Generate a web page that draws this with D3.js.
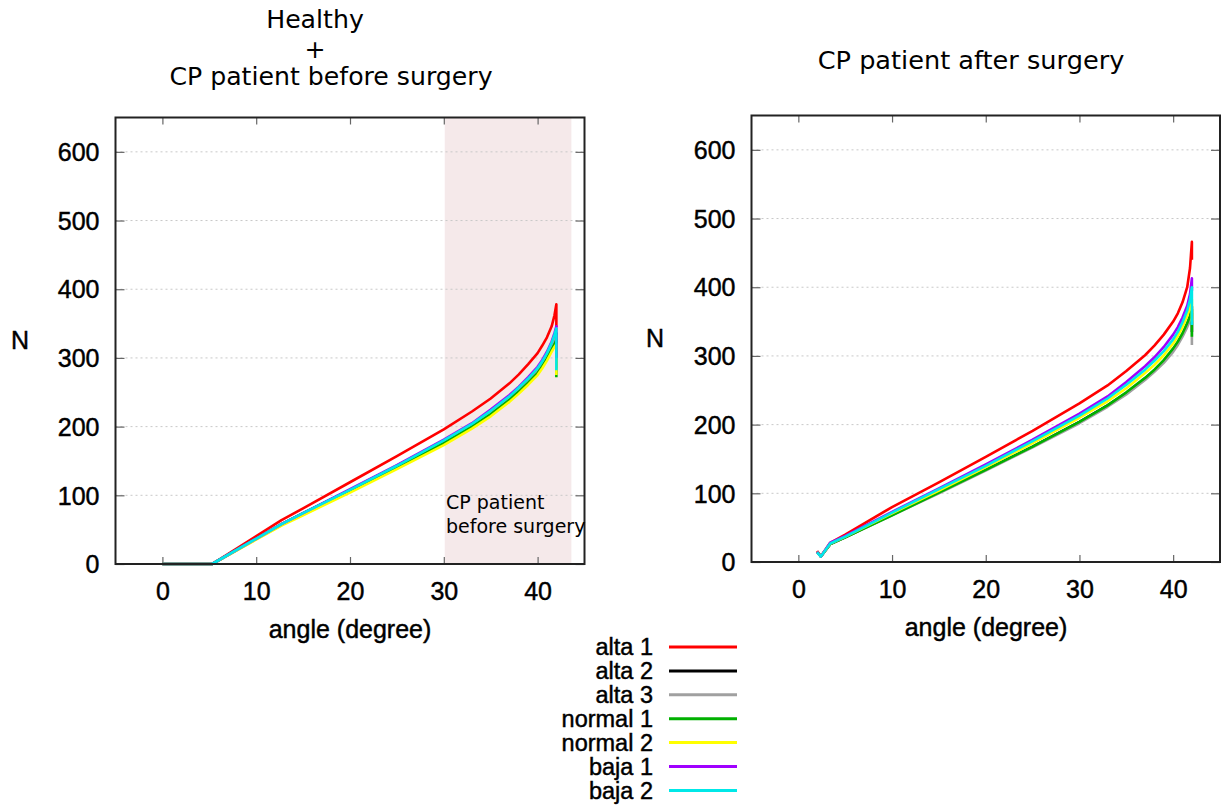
<!DOCTYPE html>
<html><head><meta charset="utf-8">
<script src="https://cdn.jsdelivr.net/npm/d3@7"></script>
<style>body{margin:0;background:#fff}</style>
</head><body><svg id="c" width="1222" height="805"></svg>
<script>
const seriesNames = ["alta 1","alta 2","alta 3","normal 1","normal 2","baja 1","baja 2"];
const seriesColors = ["#ff0000","#000000","#a0a0a0","#00b000","#ffff00","#a000ff","#00e8e8"];
const xTicks = [0,10,20,30,40];
const yTicks = [0,100,200,300,400,500,600];

// Left panel: Healthy + CP patient before surgery  [angle, N]
const beforeAlta1 = [[0,0],[5.3,0],[12.7,64],[15,81],[20,119],[25,157],[30,196],[33,222],[35,241],[37,263],[38,276],[39,291],[40,307],[40.5,318],[41,330],[41.5,346],[41.8,362],[42,378],[42,345]];
const beforeAlta2 = [[0,0],[5.3,0],[12.7,58],[15,74],[20,108],[25,143],[30,179],[33,203],[35,222],[37,243],[38,255],[39,268],[40,283],[40.5,293],[41,305],[41.5,320],[41.8,330],[42,336],[42,285]];
const beforeAlta3 = [[0,0],[5.3,0],[12.7,58],[15,74],[20,107],[25,142],[30,178],[33,202],[35,221],[37,242],[38,254],[39,267],[40,282],[40.5,292],[41,303],[41.5,317],[41.8,327],[42,333],[42,285]];
const beforeNormal1 = [[0,0],[5.3,0],[12.7,57],[15,73],[20,106],[25,140],[30,176],[33,200],[35,218],[37,239],[38,251],[39,264],[40,278],[40.5,288],[41,299],[41.5,312],[41.8,320],[42,326],[42,272]];
const beforeNormal2 = [[0,0],[5.3,0],[12.7,56],[15,71],[20,104],[25,138],[30,173],[33,197],[35,215],[37,236],[38,248],[39,261],[40,275],[40.5,285],[41,296],[41.5,309],[41.8,316],[42,320],[42,275]];
const beforeBaja1 = [[0,0],[5.3,0],[12.7,58],[15,74],[20,109],[25,144],[30,181],[33,205],[35,225],[37,246],[38,258],[39,272],[40,287],[40.5,297],[41,309],[41.5,324],[41.8,336],[42,346],[42,300]];
const beforeBaja2 = [[0,0],[5.3,0],[12.7,58],[15,74],[20,108],[25,143],[30,180],[33,204],[35,223],[37,244],[38,257],[39,270],[40,285],[40.5,295],[41,307],[41.5,322],[41.8,334],[42,343],[42,282]];

// Right panel: CP patient after surgery  [angle, N]
const afterAlta1 = [[2,16],[2.4,8],[3.4,28],[5,40],[10,80],[15,116],[20,153],[25,191],[30,231],[33,257],[35,278],[37,301],[38,315],[39,331],[40,350],[40.5,362],[41,378],[41.5,400],[41.8,428],[42,466],[42,440]];
const afterAlta2 = [[2,15],[2.4,8],[3.4,26],[5,36],[10,69],[15,101],[20,134],[25,168],[30,204],[33,228],[35,246],[37,267],[38,279],[39,293],[40,309],[40.5,319],[41,331],[41.5,346],[41.8,358],[42,372],[42,335]];
const afterAlta3 = [[2,15],[2.4,8],[3.4,26],[5,36],[10,68],[15,100],[20,133],[25,167],[30,202],[33,226],[35,244],[37,265],[38,277],[39,290],[40,306],[40.5,316],[41,328],[41.5,342],[41.8,352],[42,362],[42,316]];
const afterNormal1 = [[2,15],[2.4,8],[3.4,26],[5,36],[10,68],[15,101],[20,134],[25,168],[30,204],[33,228],[35,247],[37,268],[38,280],[39,294],[40,311],[40.5,321],[41,333],[41.5,348],[41.8,358],[42,368],[42,328]];
const afterNormal2 = [[2,15],[2.4,8],[3.4,27],[5,37],[10,71],[15,104],[20,138],[25,173],[30,210],[33,234],[35,253],[37,275],[38,287],[39,301],[40,318],[40.5,329],[41,342],[41.5,358],[41.8,370],[42,382],[42,350]];
const afterBaja1 = [[2,15],[2.4,8],[3.4,28],[5,38],[10,73],[15,107],[20,142],[25,178],[30,216],[33,241],[35,262],[37,285],[38,298],[39,313],[40,331],[40.5,342],[41,356],[41.5,373],[41.8,390],[42,413],[42,395]];
const afterBaja2 = [[2,14],[2.4,8],[3.4,27],[5,37],[10,72],[15,106],[20,140],[25,176],[30,213],[33,238],[35,258],[37,280],[38,293],[39,307],[40,324],[40.5,335],[41,349],[41.5,366],[41.8,382],[42,400],[42,345]];

const beforeSeries = [beforeAlta1,beforeAlta2,beforeAlta3,beforeNormal1,beforeNormal2,beforeBaja1,beforeBaja2];
const afterSeries = [afterAlta1,afterAlta2,afterAlta3,afterNormal1,afterNormal2,afterBaja1,afterBaja2];
const shadeRange = [30.1, 43.6];

const svg = d3.select("#c");
const tickFont = "'Liberation Sans', Arial, sans-serif";
const titleFont = "'DejaVu Sans', sans-serif";

function heavy(sel) {
  return sel.attr("fill", "#000").attr("stroke", "#000").attr("stroke-width", 0.45);
}

function panel(x0, x1, y0, y1, series, shade) {
  const x = d3.scaleLinear().domain([-5,45]).range([x0,x1]);
  const y = d3.scaleLinear().domain([0,650]).range([y1,y0]);
  const g = svg.append("g");
  if (shade) {
    g.append("rect").attr("x", x(shade[0])).attr("y", y0)
      .attr("width", x(shade[1]) - x(shade[0])).attr("height", y1 - y0)
      .attr("fill", "#f5e9ea");
  }
  g.selectAll(".grid").data(yTicks.filter(d => d > 0)).enter().append("line")
    .attr("x1", x0).attr("x2", x1).attr("y1", d => y(d)).attr("y2", d => y(d))
    .attr("stroke", "#c8c8c8").attr("stroke-width", 1).attr("stroke-dasharray", "2,3");
  const ax = (gen, tx, ty) => {
    const a = g.append("g").attr("transform", `translate(${tx},${ty})`).call(gen);
    a.select(".domain").remove();
    a.selectAll(".tick line").attr("stroke", "#666").attr("stroke-width", 1.2);
    return a;
  };
  const bottom = ax(d3.axisBottom(x).tickValues(xTicks).tickSize(-7).tickPadding(18), 0, y1);
  heavy(bottom.selectAll("text").attr("font-family", tickFont).attr("font-size", 25));
  ax(d3.axisTop(x).tickValues(xTicks).tickSize(-7).tickFormat(""), 0, y0);
  const left = ax(d3.axisLeft(y).tickValues(yTicks).tickSize(-9).tickPadding(16), x0, 0);
  heavy(left.selectAll("text").attr("font-family", tickFont).attr("font-size", 25).attr("dy", "0.35em"));
  ax(d3.axisRight(y).tickValues(yTicks).tickSize(-9).tickFormat(""), x1, 0);
  const lineLin = d3.line().x(d => x(d[0])).y(d => y(d[1]));
  series.forEach((s, i) => {
    g.append("path").datum(s).attr("d", lineLin)
      .attr("fill", "none").attr("stroke", seriesColors[i]).attr("stroke-width", 2.6)
      .attr("stroke-linejoin", "round");
  });
  g.append("rect").attr("x", x0).attr("y", y0).attr("width", x1 - x0).attr("height", y1 - y0)
    .attr("fill", "none").attr("stroke", "#222").attr("stroke-width", 2);
  return {x, y};
}

panel(115.5, 584.5, 117.5, 564, beforeSeries, shadeRange);
panel(751.5, 1220, 115.5, 562, afterSeries, null);

// titles
const t1 = svg.append("text").attr("font-family", titleFont).attr("font-size", 25.2)
  .attr("text-anchor", "middle").attr("fill", "#000");
t1.append("tspan").attr("x", 315).attr("y", 28).text("Healthy");
t1.append("tspan").attr("x", 315).attr("y", 57.5).text("+");
t1.append("tspan").attr("x", 331).attr("y", 85).text("CP patient before surgery");
svg.append("text").attr("font-family", titleFont).attr("font-size", 25.6)
  .attr("text-anchor", "middle").attr("fill", "#000").attr("x", 971).attr("y", 69).text("CP patient after surgery");

// annotation
const an = svg.append("text").attr("font-family", titleFont).attr("font-size", 19).attr("fill", "#000");
an.append("tspan").attr("x", 446).attr("y", 509).text("CP patient");
an.append("tspan").attr("x", 446).attr("y", 533).text("before surgery");

// axis labels
const lab = (x, y, t) => heavy(svg.append("text").attr("font-family", tickFont).attr("font-size", 25)
  .attr("text-anchor", "middle").attr("x", x).attr("y", y).text(t));
lab(350, 638, "angle (degree)");
lab(986, 636, "angle (degree)");
lab(20, 349, "N");
lab(655, 347, "N");

// legend
const lg = svg.append("g");
seriesNames.forEach((n, i) => {
  const yy = 647 + i * 23.9;
  heavy(lg.append("text").attr("x", 653).attr("y", yy).attr("dy", "0.35em").attr("text-anchor", "end")
    .attr("font-family", tickFont).attr("font-size", 23.5).text(n));
  lg.append("line").attr("x1", 669).attr("x2", 737).attr("y1", yy).attr("y2", yy)
    .attr("stroke", seriesColors[i]).attr("stroke-width", 3);
});
</script></body></html>
